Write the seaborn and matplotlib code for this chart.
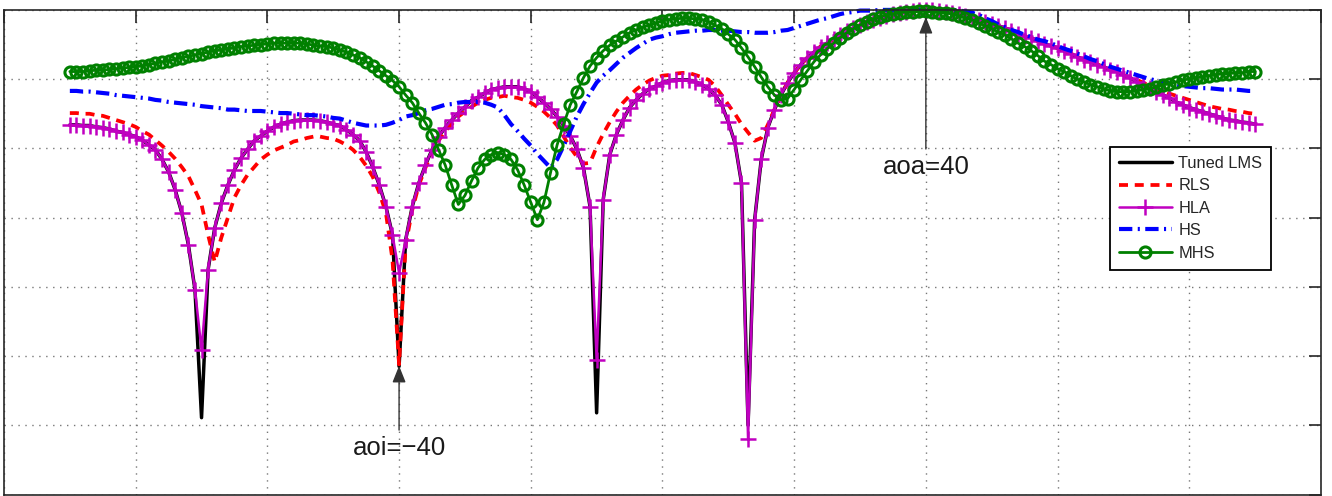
import matplotlib

matplotlib.use('Agg')
import matplotlib.pyplot as plt
import seaborn as sns

# steering angle (deg), 1 degree steps
angles = list(range(-90, 91))

# normalised array gain (dB)
lms_db = [
    -16.6, -16.6, -16.7, -16.7, -16.9, -17.0, -17.2, -17.5, -17.7, -18.0,
    -18.3, -18.8, -19.5, -20.2, -21.6, -23.4, -26.0, -29.3, -33.9, -40.4,
    -58.9, -37.5, -31.5, -27.9, -25.3, -23.1, -21.4, -20.1, -18.9, -18.2,
    -17.5, -16.9, -16.5, -16.2, -16.0, -15.9, -15.9, -15.9, -16.0, -16.2,
    -16.5, -16.7, -17.3, -18.0, -18.9, -20.5, -22.7, -25.3, -28.4, -32.5,
    -51.5, -33.2, -28.4, -25.0, -22.4, -20.2, -18.3, -17.0, -15.9, -14.9,
    -14.0, -13.1, -12.6, -12.0, -11.5, -11.3, -11.1, -11.1, -11.1, -11.4,
    -11.8, -12.6, -13.4, -14.3, -15.4, -16.7, -18.2, -20.1, -22.8, -28.4,
    -58.2, -27.4, -20.9, -18.0, -15.9, -14.1, -13.0, -12.1, -11.4, -11.0,
    -10.5, -10.2, -10.1, -10.1, -10.1, -10.4, -10.8, -11.4, -12.3, -13.7,
    -16.2, -19.2, -25.0, -60.0, -30.3, -21.6, -17.0, -14.4, -12.3, -10.5,
    -9.1, -7.9, -6.9, -6.1, -5.3, -4.8, -4.2, -3.6, -3.0, -2.6,
    -2.2, -1.7, -1.4, -1.2, -0.9, -0.6, -0.4, -0.3, -0.1, 0.0,
    0.0, 0.0, -0.1, -0.3, -0.4, -0.6, -0.9, -1.2, -1.4, -1.7,
    -2.0, -2.3, -2.6, -3.0, -3.5, -3.8, -4.0, -4.5, -4.9, -5.2,
    -5.5, -5.9, -6.3, -6.8, -7.2, -7.5, -7.9, -8.2, -8.7, -8.9,
    -9.4, -9.8, -10.4, -10.8, -11.3, -11.8, -12.3, -12.7, -13.3, -13.7,
    -14.1, -14.4, -14.7, -15.0, -15.3, -15.6, -15.9, -16.0, -16.2, -16.3,
    -16.5,
]

rls_db = [
    -14.9, -14.9, -15.0, -15.0, -15.2, -15.3, -15.6, -15.9, -16.2, -16.5,
    -16.9, -17.5, -18.0, -18.8, -19.6, -20.5, -21.5, -22.7, -24.0, -26.0,
    -28.1, -32.5, -36.4, -32.9, -30.0, -27.1, -25.3, -23.8, -22.7, -21.6,
    -20.9, -20.3, -19.9, -19.5, -19.0, -18.8, -18.5, -18.3, -18.3, -18.5,
    -18.6, -19.0, -19.5, -20.2, -21.2, -22.5, -24.1, -26.4, -29.3, -36.1,
    -51.2, -33.9, -28.9, -25.3, -22.8, -20.6, -18.9, -17.5, -16.5, -15.4,
    -14.7, -14.0, -13.4, -13.0, -12.7, -12.6, -12.4, -12.6, -12.7, -13.0,
    -13.4, -14.0, -14.7, -15.6, -16.7, -18.3, -19.9, -21.2, -22.2, -22.1,
    -19.8, -17.9, -16.2, -14.7, -13.4, -12.4, -11.5, -10.8, -10.2, -9.8,
    -9.5, -9.4, -9.2, -9.1, -9.1, -9.4, -9.7, -10.1, -11.0, -12.3,
    -13.7, -15.0, -16.5, -17.7, -18.9, -18.5, -16.6, -14.4, -12.3, -10.5,
    -9.1, -7.9, -6.9, -6.1, -5.3, -4.8, -4.2, -3.6, -3.0, -2.6,
    -2.2, -1.7, -1.4, -1.2, -0.9, -0.6, -0.4, -0.3, -0.1, 0.0,
    0.0, 0.0, -0.1, -0.3, -0.4, -0.6, -0.9, -1.2, -1.4, -1.7,
    -2.0, -2.3, -2.6, -3.0, -3.5, -3.8, -4.0, -4.5, -4.9, -5.2,
    -5.5, -5.9, -6.3, -6.8, -7.2, -7.5, -7.9, -8.2, -8.7, -8.9,
    -9.4, -9.8, -10.1, -10.5, -11.0, -11.4, -11.7, -12.1, -12.4, -12.7,
    -13.0, -13.3, -13.6, -13.9, -14.1, -14.3, -14.4, -14.6, -14.7, -14.9,
    -15.0,
]

hla_db = [
    -16.6, -16.6, -16.7, -16.7, -16.9, -17.0, -17.2, -17.5, -17.7, -18.0,
    -18.3, -18.8, -19.5, -20.2, -21.6, -23.4, -26.0, -29.3, -33.9, -40.4,
    -49.1, -37.5, -31.5, -27.9, -25.3, -23.1, -21.4, -20.1, -18.9, -18.2,
    -17.5, -16.9, -16.5, -16.2, -16.0, -15.9, -15.9, -15.9, -16.0, -16.2,
    -16.5, -16.7, -17.3, -18.0, -18.9, -20.5, -22.7, -25.3, -28.4, -32.5,
    -38.0, -33.2, -28.4, -25.0, -22.4, -20.2, -18.3, -17.0, -15.9, -14.9,
    -14.0, -13.1, -12.6, -12.0, -11.5, -11.3, -11.1, -11.1, -11.1, -11.4,
    -11.8, -12.6, -13.4, -14.3, -15.4, -16.7, -18.2, -20.1, -22.8, -28.4,
    -50.5, -27.4, -20.9, -18.0, -15.9, -14.1, -13.0, -12.1, -11.4, -11.0,
    -10.5, -10.2, -10.1, -10.1, -10.1, -10.4, -10.8, -11.4, -12.3, -13.7,
    -16.2, -19.2, -25.0, -62.0, -30.3, -21.6, -17.0, -14.4, -12.3, -10.5,
    -9.1, -7.9, -6.9, -6.1, -5.3, -4.8, -4.2, -3.6, -3.0, -2.6,
    -2.2, -1.7, -1.4, -1.2, -0.9, -0.6, -0.4, -0.3, -0.1, 0.0,
    0.0, 0.0, -0.1, -0.3, -0.4, -0.6, -0.9, -1.2, -1.4, -1.7,
    -2.0, -2.3, -2.6, -3.0, -3.5, -3.8, -4.0, -4.5, -4.9, -5.2,
    -5.5, -5.9, -6.3, -6.8, -7.2, -7.5, -7.9, -8.2, -8.7, -8.9,
    -9.4, -9.8, -10.4, -10.8, -11.3, -11.8, -12.3, -12.7, -13.3, -13.7,
    -14.1, -14.4, -14.7, -15.0, -15.3, -15.6, -15.9, -16.0, -16.2, -16.3,
    -16.5,
]

hs_db = [
    -11.7, -11.7, -11.8, -11.8, -11.9, -12.0, -12.1, -12.3, -12.4, -12.5,
    -12.6, -12.7, -12.8, -13.0, -13.1, -13.3, -13.4, -13.5, -13.6, -13.7,
    -13.9, -14.0, -14.1, -14.2, -14.4, -14.4, -14.5, -14.6, -14.6, -14.6,
    -14.7, -14.8, -14.9, -14.9, -15.0, -15.1, -15.2, -15.2, -15.3, -15.4,
    -15.6, -15.7, -16.0, -16.3, -16.5, -16.7, -16.7, -16.7, -16.6, -16.3,
    -15.9, -15.4, -15.2, -14.9, -14.5, -14.3, -14.0, -13.7, -13.6, -13.4,
    -13.3, -13.3, -13.3, -13.4, -13.7, -14.1, -15.2, -16.5, -17.5, -18.6,
    -19.6, -20.8, -21.8, -22.8, -21.6, -19.6, -17.5, -15.4, -13.6, -12.0,
    -10.5, -9.5, -8.7, -7.8, -6.9, -6.2, -5.5, -4.9, -4.3, -4.0,
    -3.8, -3.5, -3.3, -3.2, -3.1, -3.0, -3.0, -2.9, -2.9, -3.0,
    -3.0, -3.1, -3.2, -3.2, -3.3, -3.3, -3.3, -3.2, -3.0, -2.9,
    -2.6, -2.3, -2.0, -1.7, -1.4, -1.2, -0.9, -0.6, -0.4, -0.3,
    -0.1, -0.1, -0.1, 0.0, 0.0, 0.0, 0.0, 0.0, 0.0, 0.0,
    0.0, 0.0, 0.0, 0.0, 0.0, -0.1, -0.2, -0.4, -0.7, -1.2,
    -1.6, -2.1, -2.5, -2.9, -3.2, -3.6, -3.9, -4.3, -4.5, -4.8,
    -5.2, -5.6, -5.9, -6.3, -6.7, -7.1, -7.4, -7.8, -8.2, -8.5,
    -8.8, -9.1, -9.4, -9.7, -10.0, -10.2, -10.4, -10.6, -10.8, -11.0,
    -11.1, -11.2, -11.3, -11.3, -11.4, -11.5, -11.5, -11.5, -11.6, -11.7,
    -11.7,
]

mhs_db = [
    -8.9, -8.9, -8.9, -8.8, -8.7, -8.7, -8.6, -8.5, -8.4, -8.3,
    -8.2, -8.1, -7.9, -7.7, -7.5, -7.4, -7.1, -6.9, -6.7, -6.5,
    -6.3, -6.1, -5.9, -5.8, -5.6, -5.5, -5.3, -5.2, -5.1, -5.0,
    -4.9, -4.8, -4.8, -4.8, -4.8, -4.8, -4.9, -5.1, -5.2, -5.3,
    -5.5, -5.8, -6.1, -6.5, -6.9, -7.5, -8.1, -8.8, -9.5, -10.2,
    -11.1, -12.3, -13.4, -14.9, -16.3, -18.0, -20.2, -22.4, -25.3, -28.1,
    -26.8, -24.7, -22.8, -21.6, -20.9, -20.6, -20.9, -21.6, -23.1, -25.3,
    -27.8, -30.3, -27.8, -23.5, -19.5, -16.5, -13.7, -11.8, -9.8, -8.1,
    -6.9, -5.9, -5.1, -4.5, -3.9, -3.3, -2.9, -2.5, -2.2, -1.9,
    -1.6, -1.4, -1.3, -1.2, -1.2, -1.3, -1.4, -1.7, -2.2, -2.7,
    -3.5, -4.3, -5.5, -6.8, -8.2, -9.7, -11.1, -12.3, -13.0, -12.8,
    -11.5, -10.1, -8.8, -7.5, -6.5, -5.6, -4.8, -4.0, -3.3, -2.7,
    -2.2, -1.7, -1.3, -1.0, -0.7, -0.6, -0.4, -0.3, -0.3, -0.2,
    -0.2, -0.3, -0.4, -0.4, -0.6, -0.9, -1.2, -1.4, -1.9, -2.3,
    -2.7, -3.2, -3.6, -4.2, -4.8, -5.3, -5.9, -6.6, -7.4, -7.9,
    -8.5, -8.9, -9.5, -10.0, -10.4, -10.8, -11.1, -11.4, -11.7, -11.8,
    -11.8, -11.8, -11.7, -11.5, -11.4, -11.1, -10.8, -10.7, -10.4, -10.1,
    -10.0, -9.8, -9.7, -9.5, -9.4, -9.2, -9.2, -9.1, -9.1, -8.9,
    -8.9,
]

x_ticks = list(range(-100, 101, 20))
y_ticks = list(range(-70, 1, 10))

sns.set_style('white')
plt.rcParams['font.family'] = ['Liberation Sans', 'DejaVu Sans']

fig = plt.figure(figsize=(13.32, 4.96), dpi=100)
ax = fig.add_axes([0.003, 0.003, 0.9887, 0.977])

sns.lineplot(x=angles, y=lms_db, ax=ax, color='black', lw=2.5,
             label='Tuned LMS', clip_on=False)
sns.lineplot(x=angles, y=rls_db, ax=ax, color='#ff0000', lw=2.7,
             linestyle=(0, (2.4, 1.8)), label='RLS', clip_on=False)
sns.lineplot(x=angles, y=hla_db, ax=ax, color='#c000c0', lw=1.8,
             marker='+', markersize=12, markeredgewidth=1.8,
             markeredgecolor='#c000c0', label='HLA', clip_on=False)
sns.lineplot(x=angles, y=hs_db, ax=ax, color='#0000ff', lw=3.0,
             linestyle=(0, (3.2, 1.3, 0.5, 1.3)), label='HS', clip_on=False)
sns.lineplot(x=angles, y=mhs_db, ax=ax, color='#008000', lw=2.0,
             marker='o', markersize=8, markeredgewidth=2.2,
             markeredgecolor='#008000', markerfacecolor='none',
             label='MHS', clip_on=False)

ax.set_xlim(-100, 100)
ax.set_ylim(-70, 0)
ax.set_xticks(x_ticks)
ax.set_yticks(y_ticks)
ax.set_xlabel('')
ax.set_ylabel('')
ax.grid(True, color='#777777', lw=1.0, linestyle=(0, (1, 4)))
ax.tick_params(direction='in', length=9, width=1.2, colors='#262626',
               top=True, right=True, labelbottom=False, labelleft=False)
for sp in ax.spines.values():
    sp.set_color('#262626')
    sp.set_linewidth(1.2)

arrow = dict(arrowstyle='-|>,head_length=0.55,head_width=0.22',
             color='#333333', lw=1.0, shrinkA=2, shrinkB=0)
ax.annotate('aoi=\u221240', xy=(-40, -51.4), xytext=(-40, -63.3),
            ha='center', va='center', fontsize=18.5, color='#1a1a1a',
            arrowprops=arrow)
ax.annotate('aoa=40', xy=(40, -1.0), xytext=(40, -22.7),
            ha='center', va='center', fontsize=18.5, color='#1a1a1a',
            arrowprops=arrow)

leg = ax.legend(loc='upper left', bbox_to_anchor=(0.840, 0.717),
                borderaxespad=0, fontsize=11.8, handlelength=3.2,
                handletextpad=0.4, labelspacing=0.45, borderpad=0.55,
                fancybox=False, framealpha=1, edgecolor='black')
leg.get_frame().set_linewidth(1.3)

fig.savefig('out.png', dpi=100)
plt.close(fig)
